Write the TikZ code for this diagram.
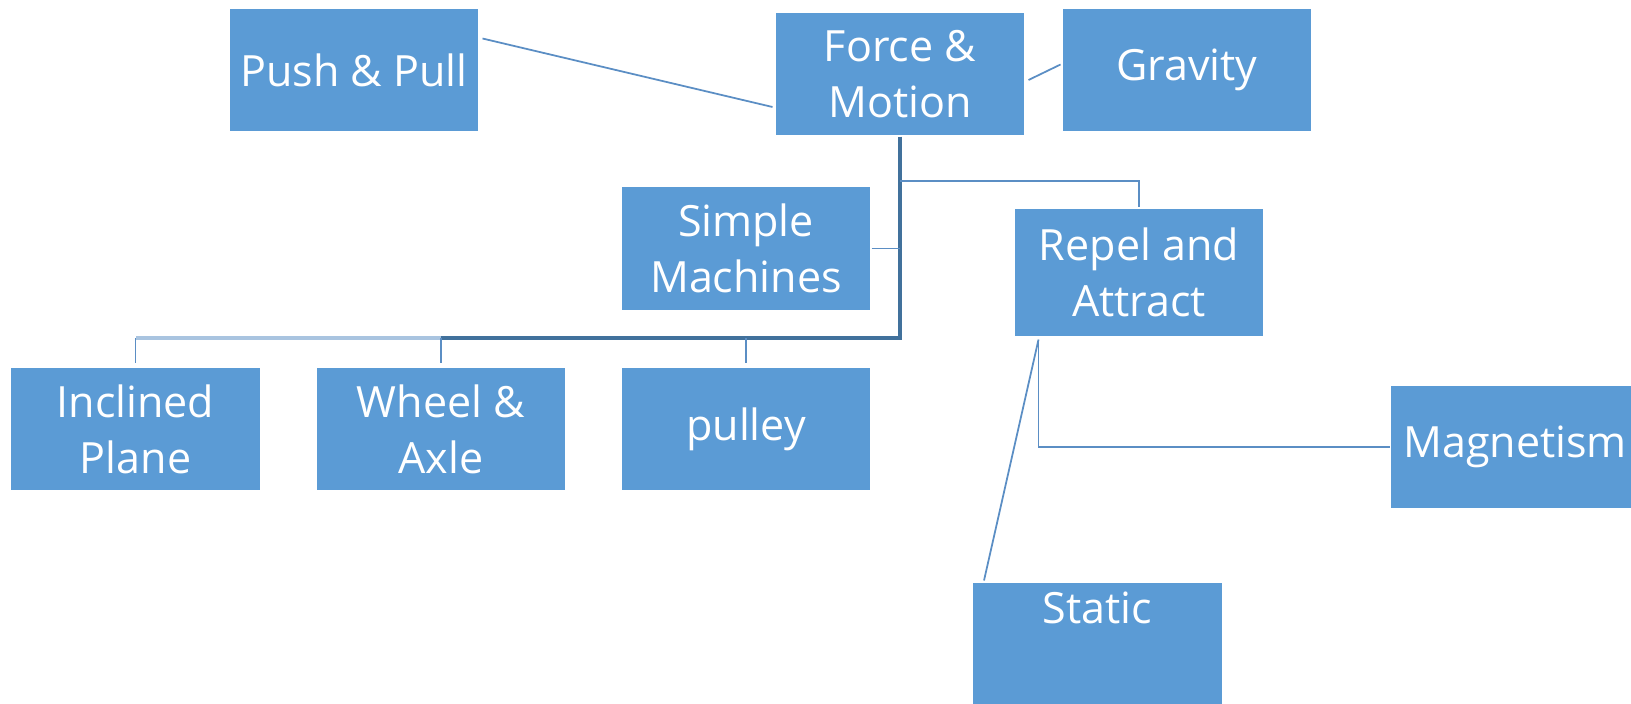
\documentclass[tikz,border=0pt]{standalone}
\usepackage{fontspec}
\setmainfont{Open Sans}
\usetikzlibrary{calc}
\definecolor{boxblue}{HTML}{5B9BD5}
\definecolor{trunkblue}{HTML}{41719C}
\definecolor{linkblue}{HTML}{5B8EC4}
\definecolor{paleblue}{HTML}{A9C4E0}
\begin{document}
\begin{tikzpicture}[x=0.02cm,y=-0.02cm,
  box/.style={rectangle, fill=boxblue, draw=white, line width=0.6pt,
    minimum width=5cm, minimum height=2.48cm, inner sep=0pt, align=center,
    text=white, font=\fontsize{24.5}{32}\selectfont},
  link/.style={draw=linkblue, line width=1pt},
  trunk/.style={draw=trunkblue, line width=1.8pt}]
\clip (0,0) rectangle (1631,703);

% concept boxes
\node[box] (force)   at (900,74)     {Force \&\\Motion};
\node[box] (push)    at (354,70)     {Push \& Pull};
\node[box] (gravity) at (1187,70)    {\raisebox{-3pt}{Gravity}};
\node[box] (simple)  at (746,248.5)  {Simple\\Machines};
\node[box, minimum height=2.58cm] (repel) at (1139,272.5) {Repel and\\Attract};
\node[box] (incl)    at (135.5,429)  {Inclined\\Plane};
\node[box] (wheel)   at (441,429)    {Wheel \&\\Axle};
\node[box] (pulley)  at (746,429)    {pulley};
\node[box] (magnet)  at (1515,447)   {Magnetism};
\node[box] (static)  at (1097.5,644) {Static\\\strut};

% junction points
\coordinate (hub)  at (900,338);
\coordinate (fork) at (900,181);
\coordinate (rp)   at ($(repel.south west)+(25,2)$);

% connectors
\draw[link] ($(push.east)+(3,-31.5)$) -- ($(force.west)+(-2,33)$);
\draw[link] ($(force.east)+(3,6)$) -- ($(gravity.west)+(-1,-5.5)$);
\draw[trunk] (force.south) -- (hub) -- (hub -| wheel.north);
\draw[draw=paleblue, line width=1.8pt] (hub -| wheel.north) -- (hub -| incl.north);
\draw[link] (hub -| incl.north) -- ($(incl.north)+(0,-3)$);
\draw[link] (hub -| wheel.north) -- ($(wheel.north)+(0,-3)$);
\draw[link] (hub -| pulley.north) -- ($(pulley.north)+(0,-3)$);
\draw[link] (fork) -- (fork -| repel.north) -- (repel.north);
\draw[link] (simple.east) -- (simple.east -| hub);
\draw[link] (rp) |- (magnet.west);
\draw[link] (rp) -- ($(static.north west)+(12,-1)$);
\end{tikzpicture}
\end{document}
